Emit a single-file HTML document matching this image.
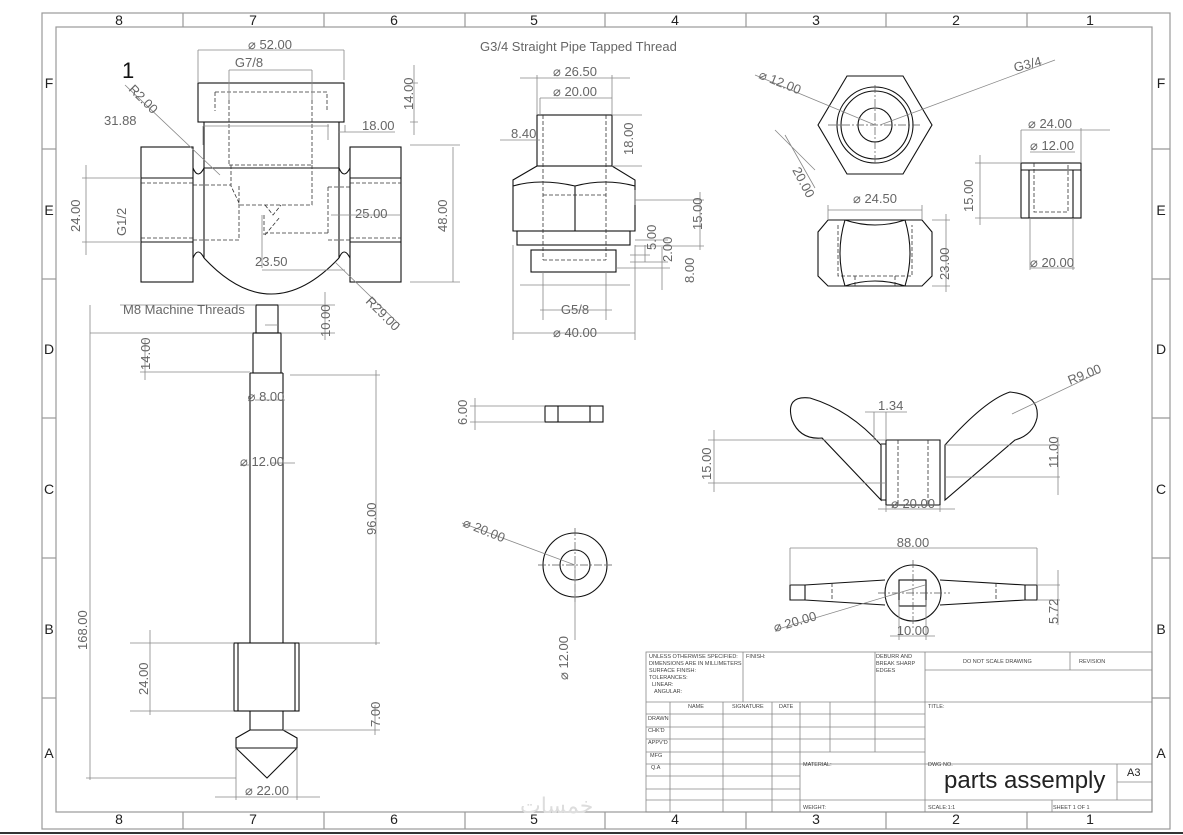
<!DOCTYPE html>
<html><head><meta charset="utf-8"><style>
html,body{margin:0;padding:0;background:#fff;}
svg{display:block;font-family:"Liberation Sans",sans-serif;}
.o{fill:none;stroke:#111;stroke-width:1.1}
.h{fill:none;stroke:#333;stroke-width:.8;stroke-dasharray:4 2}
.d{fill:none;stroke:#888;stroke-width:.8}
.c{fill:none;stroke:#555;stroke-width:.7;stroke-dasharray:8 2 2 2}
.t{fill:#666;font-size:13px}
.s{fill:#444;font-size:5.5px}
.z{fill:#222;font-size:14px}
.f{fill:none;stroke:#999;stroke-width:1.2}
.b{fill:none;stroke:#888;stroke-width:.8}
</style></head><body>
<svg width="1183" height="835" viewBox="0 0 1183 835">
<!-- frame -->
<rect x="42" y="13" width="1128" height="816" class="f"/>
<rect x="56" y="27" width="1096" height="785" class="f"/>
<line x1="0" y1="833" x2="1183" y2="833" stroke="#333" stroke-width="2"/>
<g class="f">
<line x1="183" y1="13" x2="183" y2="27"/><line x1="324" y1="13" x2="324" y2="27"/><line x1="465" y1="13" x2="465" y2="27"/><line x1="605" y1="13" x2="605" y2="27"/><line x1="746" y1="13" x2="746" y2="27"/><line x1="886" y1="13" x2="886" y2="27"/><line x1="1027" y1="13" x2="1027" y2="27"/>
<line x1="183" y1="812" x2="183" y2="829"/><line x1="324" y1="812" x2="324" y2="829"/><line x1="465" y1="812" x2="465" y2="829"/><line x1="605" y1="812" x2="605" y2="829"/><line x1="746" y1="812" x2="746" y2="829"/><line x1="886" y1="812" x2="886" y2="829"/><line x1="1027" y1="812" x2="1027" y2="829"/>
<line x1="42" y1="149" x2="56" y2="149"/><line x1="42" y1="279" x2="56" y2="279"/><line x1="42" y1="418" x2="56" y2="418"/><line x1="42" y1="558" x2="56" y2="558"/><line x1="42" y1="698" x2="56" y2="698"/>
<line x1="1152" y1="149" x2="1170" y2="149"/><line x1="1152" y1="279" x2="1170" y2="279"/><line x1="1152" y1="418" x2="1170" y2="418"/><line x1="1152" y1="558" x2="1170" y2="558"/><line x1="1152" y1="698" x2="1170" y2="698"/>
</g>
<g class="z" text-anchor="middle">
<text x="119" y="25">8</text><text x="253" y="25">7</text><text x="394" y="25">6</text><text x="534" y="25">5</text><text x="675" y="25">4</text><text x="816" y="25">3</text><text x="956" y="25">2</text><text x="1090" y="25">1</text>
<text x="119" y="824">8</text><text x="253" y="824">7</text><text x="394" y="824">6</text><text x="534" y="824">5</text><text x="675" y="824">4</text><text x="816" y="824">3</text><text x="956" y="824">2</text><text x="1090" y="824">1</text>
<text x="49" y="88">F</text><text x="49" y="215">E</text><text x="49" y="354">D</text><text x="49" y="494">C</text><text x="49" y="634">B</text><text x="49" y="758">A</text>
<text x="1161" y="88">F</text><text x="1161" y="215">E</text><text x="1161" y="354">D</text><text x="1161" y="494">C</text><text x="1161" y="634">B</text><text x="1161" y="758">A</text>
</g>
<text x="122" y="78" style="font-size:22px;fill:#111">1</text>

<!-- TEE -->
<rect x="198" y="83" width="146" height="39" class="o"/>
<path d="M204 122V168M339 122V168M204 168H339M204 168V258M339 168V258" class="o"/>
<path d="M204 258Q271 330 339 258" class="o"/>
<rect x="141" y="147" width="52" height="135" class="o"/>
<rect x="350" y="147" width="51" height="135" class="o"/>
<path d="M193 168q5 12 11 0M339 168q5 12 11 0M193 258q5-12 11 0M339 258q5-12 11 0" class="o"/>
<path d="M141 178H193M141 242H193M350 178H401M350 242H401" class="o"/>
<path d="M141 183H193M141 238H193M350 183H401M350 238H401M215 92H327V111M215 92V111M229 100V165M312 100V165H229M231 165V186L240 205H312V165M265 205L273 215L281 205M264 215V235M265 235L280 217M193 185H231M193 240H239V185M328 187V233M328 187H350M328 233H265M328 240H350" class="h"/>
<!-- tee dims -->
<path d="M198 50H344M198 50V83M344 50V80M229 70H312M229 70V100M312 70V100M203 126H329M203 126V145M328 124V140M338 132H395M345 125V132M410 83H418M410 122H418M414 65V135M410 145H460M410 282H460M453 147V282M262 270H345M262 268V215M331 215H400M82 178H141M82 242H141M86 165V255" class="d"/>
<path d="M125 85L220 175M335 262L400 325" class="d"/>
<text x="270" y="49" text-anchor="middle" class="t">⌀ 52.00</text>
<text x="249" y="67" text-anchor="middle" class="t">G7/8</text>
<text x="104" y="125" class="t">31.88</text>
<text x="362" y="130" class="t">18.00</text>
<text x="355" y="218" class="t">25.00</text>
<text x="255" y="266" class="t">23.50</text>
<text transform="translate(413 110) rotate(-90)" class="t">14.00</text>
<text transform="translate(447 232) rotate(-90)" class="t">48.00</text>
<text transform="translate(80 232) rotate(-90)" class="t">24.00</text>
<text transform="translate(126 236) rotate(-90)" class="t">G1/2</text>
<text transform="translate(128 90) rotate(45)" class="t">R2.00</text>
<text transform="translate(365 302) rotate(45)" class="t">R29.00</text>

<!-- PIPE FITTING -->
<text x="480" y="51" class="t">G3/4 Straight Pipe Tapped Thread</text>
<rect x="537" y="115" width="75" height="51" class="o"/>
<path d="M537 166L513 180V231H635V180L612 166M513 186Q540 178 575 186Q605 178 635 186M575 186V231" class="o"/>
<rect x="517" y="231" width="113" height="14" class="o"/>
<rect x="531" y="250" width="85" height="22" class="o"/>
<path d="M543 115V260M606 115V260M543 195H606M543 260H606" class="h"/>
<path d="M537 75V115M612 75V115M520 78H630M540 98H612M540 98V115M612 98V115M612 115H642M612 166H642M635 190V205M635 200H704M635 246H704M700 192V250M635 240H668M645 245V262M630 255H650M630 262H668M616 268H670M662 247V290M520 285H630M540 310H612M543 272V320M606 272V320M513 245V340M635 245V340M513 333H635M500 140H540" class="d"/>
<text x="575" y="76" text-anchor="middle" class="t">⌀ 26.50</text>
<text x="575" y="96" text-anchor="middle" class="t">⌀ 20.00</text>
<text x="511" y="138" class="t">8.40</text>
<text x="575" y="314" text-anchor="middle" class="t">G5/8</text>
<text x="575" y="337" text-anchor="middle" class="t">⌀ 40.00</text>
<text transform="translate(633 155) rotate(-90)" class="t">18.00</text>
<text transform="translate(702 230) rotate(-90)" class="t">15.00</text>
<text transform="translate(656 250) rotate(-90)" class="t">5.00</text>
<text transform="translate(672 262) rotate(-90)" class="t">2.00</text>
<text transform="translate(694 283) rotate(-90)" class="t">8.00</text>

<!-- NUT top -->
<path d="M847 76H903L932 125L903 174H847L818 125Z" class="o"/>
<circle cx="875" cy="125" r="38" class="o"/><circle cx="875" cy="125" r="34" class="o"/><circle cx="875" cy="125" r="17" class="o"/>
<path d="M828 125H922M875 85V165" class="c"/>
<path d="M755 75L875 125M880 125L1055 60M775 130L815 170M785 135L815 188" class="d"/>
<text transform="translate(758 78) rotate(22)" class="t">⌀ 12.00</text>
<text transform="translate(1015 72) rotate(-14)" class="t">G3/4</text>
<text transform="translate(792 170) rotate(62)" class="t">20.00</text>
<!-- nut side -->
<path d="M828 220H922L932 232V276L922 286H828L818 276V232Z" class="o"/>
<path d="M845 220Q835 253 845 286M905 220Q915 253 905 286M845 220Q875 230 905 220M845 286Q875 276 905 286" class="o"/>
<path d="M838 225V276H912V225M855 276V286M895 276V286" class="h"/>
<path d="M828 210H922M828 205V220M922 205V220M932 220H950M932 286H950M946 214V292" class="d"/>
<text x="875" y="203" text-anchor="middle" class="t">⌀ 24.50</text>
<text transform="translate(949 280) rotate(-90)" class="t">23.00</text>

<!-- BUSHING -->
<rect x="1021" y="163" width="60" height="55" class="o"/>
<path d="M1021 170H1081M1029 170V218M1073 170V218" class="o"/>
<path d="M1034 163V212H1068V163" class="h"/>
<path d="M1021 130H1110M1021 130V163M1081 128V163M1030 152H1075M975 163H1021M975 218H1021M980 155V225M1030 268H1075M1030 218V270M1073 218V270" class="d"/>
<text x="1050" y="128" text-anchor="middle" class="t">⌀ 24.00</text>
<text x="1052" y="150" text-anchor="middle" class="t">⌀ 12.00</text>
<text x="1052" y="267" text-anchor="middle" class="t">⌀ 20.00</text>
<text transform="translate(973 212) rotate(-90)" class="t">15.00</text>

<!-- ROD -->
<rect x="256" y="305" width="22" height="28" class="o"/>
<rect x="253" y="333" width="28" height="40" class="o"/>
<path d="M250 373H283M250 373V643M283 373V643" class="o"/>
<rect x="234" y="643" width="65" height="68" class="o"/>
<path d="M238 643V711M295 643V711M250 711V730H283V711M250 730L236 738V748H297V738L283 730M236 748L267 778L297 748" class="o"/>
<path d="M120 305H256M278 305H335M281 333H335M325 292V340M90 333H253M140 372H250M145 340V380M265 325H278M255 400H285M270 463H295M240 465H250M290 375H380M300 643H380M376 370V645M234 643H130M234 711H130M150 630V715M283 730H380M375 705V735M90 305V780M86 778H236M236 748V800M297 748V800M215 797H320" class="d"/>
<text x="123" y="314" class="t">M8 Machine Threads</text>
<text transform="translate(330 337) rotate(-90)" class="t">10.00</text>
<text transform="translate(150 370) rotate(-90)" class="t">14.00</text>
<text x="266" y="401" text-anchor="middle" class="t">⌀ 8.00</text>
<text x="262" y="466" text-anchor="middle" class="t">⌀ 12.00</text>
<text transform="translate(376 535) rotate(-90)" class="t">96.00</text>
<text transform="translate(87 650) rotate(-90)" class="t">168.00</text>
<text transform="translate(148 695) rotate(-90)" class="t">24.00</text>
<text transform="translate(380 727) rotate(-90)" class="t">7.00</text>
<text x="267" y="795" text-anchor="middle" class="t">⌀ 22.00</text>

<!-- SMALL BLOCK / WASHER -->
<rect x="545" y="406" width="58" height="16" class="o"/>
<path d="M558 406V422M590 406V422" class="o"/>
<path d="M470 406H545M470 422H545M475 398V430" class="d"/>
<text transform="translate(467 425) rotate(-90)" class="t">6.00</text>
<circle cx="575" cy="565" r="32" class="o"/><circle cx="575" cy="565" r="15" class="o"/>
<path d="M538 565H612M575 528V602" class="c"/>
<path d="M462 523L575 565L575 640" class="d"/>
<text transform="translate(462 526) rotate(22)" class="t">⌀ 20.00</text>
<text transform="translate(568 680) rotate(-90)" class="t">⌀ 12.00</text>

<!-- WING NUT front -->
<path d="M886 440H940V505H886ZM886 444L881 444M886 500H881" class="o"/>
<path d="M881 445Q850 410 810 398Q785 395 792 420Q800 440 822 438L881 500V445" class="o"/>
<path d="M945 445Q985 400 1010 392Q1040 395 1037 418Q1033 435 1015 440L945 500Z" class="o"/>
<path d="M898 440V505M928 440V505" class="h"/>
<path d="M708 440H886M708 483H886M714 430V492M945 445H1060M945 477H1060M1058 437V495M886 505V512M940 505V512M878 509H955M874 412V440M886 412V440M865 412H907M1012 414L1100 372" class="d"/>
<text x="878" y="410" class="t">1.34</text>
<text x="913" y="508" text-anchor="middle" class="t">⌀ 20.00</text>
<text transform="translate(711 480) rotate(-90)" class="t">15.00</text>
<text transform="translate(1058 468) rotate(-90)" class="t">11.00</text>
<text transform="translate(1070 385) rotate(-22)" class="t">R9.00</text>
<!-- wing nut bottom -->
<circle cx="913" cy="593" r="28" class="o"/>
<rect x="899" y="580" width="27" height="26" class="o"/>
<path d="M885 580L805 585H790V600H805L885 605M805 585V600M940 580L1025 585H1037V600H1025L940 605M1025 585V600" class="o"/>
<path d="M832 583V602M996 583V602" class="h"/>
<path d="M878 593H950M913 560V628" class="c"/>
<path d="M790 548H1037M790 548V585M1037 548V585M1037 585H1060M1037 600H1060M1058 570V625M899 600V640M926 600V640M890 636H935M775 630L925 585" class="d"/>
<text x="913" y="547" text-anchor="middle" class="t">88.00</text>
<text x="913" y="635" text-anchor="middle" class="t">10.00</text>
<text transform="translate(775 632) rotate(-16)" class="t">⌀ 20.00</text>
<text transform="translate(1058 624) rotate(-90)" class="t">5.72</text>

<!-- TITLE BLOCK -->
<g class="b">
<rect x="646" y="652" width="506" height="160"/>
<path d="M646 702H925M925 670H1152M1070 652V670M925 702H1152M743 652V702M875 652V702M925 652V812"/>
<path d="M646 714H925M646 727H925M646 739H925M646 752H925M646 764H800M646 776H800M646 789H800M646 800H925M925 764H1152M925 800H1152M1117 764V800M1117 782H1152M1052 800V812"/>
<path d="M670 702V812M723 702V812M772 702V812M800 702V812M830 702V752M875 702V752M800 764H925"/>
</g>
<g class="s">
<text x="649" y="658">UNLESS OTHERWISE SPECIFIED:</text>
<text x="649" y="665">DIMENSIONS ARE IN MILLIMETERS</text>
<text x="649" y="672">SURFACE FINISH:</text>
<text x="649" y="679">TOLERANCES:</text>
<text x="652" y="686">LINEAR:</text>
<text x="654" y="693">ANGULAR:</text>
<text x="746" y="658">FINISH:</text>
<text x="876" y="658">DEBURR AND</text><text x="876" y="665">BREAK SHARP</text><text x="876" y="672">EDGES</text>
<text x="963" y="663">DO NOT SCALE DRAWING</text>
<text x="1079" y="663">REVISION</text>
<text x="688" y="708">NAME</text><text x="732" y="708">SIGNATURE</text><text x="779" y="708">DATE</text>
<text x="928" y="708">TITLE:</text>
<text x="648" y="720">DRAWN</text><text x="648" y="732">CHK'D</text><text x="648" y="744">APPV'D</text><text x="650" y="757">MFG</text><text x="651" y="769">Q.A</text>
<text x="803" y="766">MATERIAL:</text>
<text x="928" y="766">DWG NO.</text>
<text x="803" y="809">WEIGHT:</text>
<text x="928" y="809">SCALE:1:1</text>
<text x="1053" y="809">SHEET 1 OF 1</text>
</g>
<text x="944" y="788" style="font-size:24px;fill:#222">parts assemply</text>
<text x="1127" y="776" style="font-size:11px;fill:#222">A3</text>
<text x="520" y="813" style="font-size:22px;fill:#ddd;font-family:'DejaVu Sans',sans-serif">خمسات</text>
</svg>
</body></html>
